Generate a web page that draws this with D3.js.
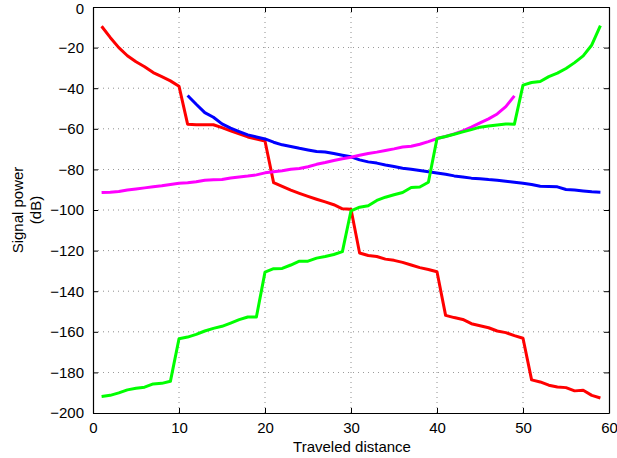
<!DOCTYPE html>
<html>
<head>
<meta charset="utf-8">
<script src="https://cdn.jsdelivr.net/npm/d3@7"></script>
<style>
  body { margin: 0; background: #fff; }
  svg { display: block; }
  text { font-family: "Liberation Sans", Arial, Helvetica, sans-serif; fill: #000; }
</style>
</head>
<body>
<svg id="chart" width="617" height="458"></svg>
<script>
// ---- data ----
const xTicks = [0, 10, 20, 30, 40, 50, 60];
const yTicks = [0, -20, -40, -60, -80, -100, -120, -140, -160, -180, -200];
const xLabel = "Traveled distance";
const yLabelLines = ["Signal power", "(dB)"];

const redX = d3.range(1, 60);
const redY = [-9.5, -15, -20, -24, -27, -29.4, -32.3, -34.3, -36.4, -39,
  -57.7, -58, -58, -58, -59.4, -61, -62.5, -64, -65, -66,
  -86.5, -88.4, -90.2, -91.8, -93.3, -94.7, -96, -97.4, -99.4, -99.6,
  -121.2, -122.4, -122.9, -124.2, -124.8, -125.8, -127.1, -128.4, -129.3, -130.4,
  -151.9, -153, -153.9, -156, -157, -158, -159.6, -160.4, -161.9, -163.2,
  -183.7, -184.7, -186.3, -187.2, -187.5, -189.1, -188.8, -191.3, -192.6];

const greenX = d3.range(1, 60);
const greenY = [-191.9, -191.3, -190.1, -188.6, -187.8, -187.3, -185.7, -185.4, -184.4,
  -163.4, -162.6, -161.3, -159.6, -158.3, -157.3, -155.7, -154, -152.7, -152.7,
  -130.6, -128.9, -128.8, -127.1, -125.2, -125.2, -123.7, -122.9, -121.9, -120.5,
  -100.4, -98.6, -97.9, -95.3, -93.7, -92.5, -91.4, -88.9, -88.7, -86.3,
  -64.8, -63.8, -62.7, -61.5, -60.4, -59.2, -58.6, -58.1, -57.6, -57.7,
  -38.5, -37.2, -36.7, -34.3, -32.6, -30.3, -27.4, -24.1, -18.7, -9.2];

const blueX = d3.range(11, 60);
const blueY = [-43.6, -47.9, -52, -54.3, -57.6, -59.7, -61.4, -63, -64, -65,
  -66.6, -67.9, -68.7, -69.6, -70.4, -71.2, -71.4, -72.2, -73, -73.8,
  -75.3, -76.3, -76.9, -77.8, -78.6, -79.4, -79.9, -80.5, -81.2, -81.8,
  -82.4, -83.2, -83.7, -84.3, -84.6, -85, -85.3, -85.8, -86.3, -86.8,
  -87.4, -88.3, -88.4, -88.6, -89.9, -90.2, -90.6, -91, -91.2];

const magentaX = d3.range(1, 50);
const magentaY = [-91.4, -91.2, -90.9, -90.1, -89.6, -89.1, -88.6, -88.1, -87.4, -86.8,
  -86.6, -86.1, -85.3, -85.1, -85, -84.2, -83.7, -83.3, -82.7, -81.7,
  -81.2, -80.7, -79.9, -79.6, -78.7, -77.5, -76.6, -75.6, -74.8, -74,
  -73, -72.2, -71.5, -70.7, -69.9, -69, -68.6, -67.6, -66.3, -64.8,
  -63.8, -62.5, -61, -59.2, -57.1, -55.1, -52.7, -49.1, -43.8];

const series = [
  { name: "red", color: "#ff0000", xs: redX, ys: redY },
  { name: "blue", color: "#0000ff", xs: blueX, ys: blueY },
  { name: "magenta", color: "#ff00ff", xs: magentaX, ys: magentaY },
  { name: "green", color: "#00ff00", xs: greenX, ys: greenY }
];

// ---- layout ----
(function () {
const svg = d3.select("#chart");
const mL = 93, mR = 609, mT = 7, mB = 413;
const x = d3.scaleLinear().domain([0, 60]).range([mL, mR]);
const y = d3.scaleLinear().domain([-200, 0]).range([mB, mT]);

// grid
const grid = svg.append("g");
grid.selectAll("line.gx").data(xTicks.slice(1, -1)).enter().append("line")
  .attr("x1", d => x(d)).attr("x2", d => x(d))
  .attr("y1", mT).attr("y2", mB)
  .attr("stroke", "#000").attr("stroke-width", 0.8)
  .attr("stroke-dasharray", "1,4").attr("opacity", 0.55);
grid.selectAll("line.gy").data(yTicks.slice(1, -1)).enter().append("line")
  .attr("y1", d => y(d)).attr("y2", d => y(d))
  .attr("x1", mL).attr("x2", mR)
  .attr("stroke", "#000").attr("stroke-width", 0.8)
  .attr("stroke-dasharray", "1,4").attr("opacity", 0.55);

// lines
const line = d3.line().x(d => x(d[0])).y(d => y(d[1]));
series.forEach(s => {
  const pts = s.xs.map((xv, i) => [xv, s.ys[i]]);
  svg.append("path").datum(pts)
    .attr("d", line)
    .attr("fill", "none")
    .attr("stroke", s.color)
    .attr("stroke-width", 3)
    .attr("stroke-linejoin", "round");
});

// axes (ticks inside, on all four sides)
const fmt = d => d < 0 ? "\u2212" + Math.abs(d) : String(d);
const axB = svg.append("g").attr("transform", `translate(0,${mB})`)
  .call(d3.axisBottom(x).tickValues(xTicks).tickSizeInner(-5).tickSizeOuter(0).tickPadding(9).tickFormat(fmt));
const axL = svg.append("g").attr("transform", `translate(${mL},0)`)
  .call(d3.axisLeft(y).tickValues(yTicks).tickSizeInner(-5).tickSizeOuter(0).tickPadding(9).tickFormat(fmt));
const axT = svg.append("g").attr("transform", `translate(0,${mT})`)
  .call(d3.axisTop(x).tickValues(xTicks).tickSizeInner(-5).tickSizeOuter(0).tickFormat(""));
const axR = svg.append("g").attr("transform", `translate(${mR},0)`)
  .call(d3.axisRight(y).tickValues(yTicks).tickSizeInner(-5).tickSizeOuter(0).tickFormat(""));
[axB, axL, axT, axR].forEach(a => {
  a.select(".domain").attr("stroke", "#000").attr("stroke-width", 1.2);
  a.selectAll(".tick line").attr("stroke", "#000");
  a.selectAll("text").attr("font-size", 15).attr("font-family", "Liberation Sans, Arial, sans-serif").attr("fill", "#000");
});
// keep the top "0" label fully inside the page
axL.selectAll(".tick text").filter(d => d === 0).attr("dy", "0.45em");

// labels
svg.append("text").attr("x", (mL + mR) / 2 + 1).attr("y", 452)
  .attr("text-anchor", "middle").attr("font-size", 15).text(xLabel);
const yl = svg.append("text").attr("transform", `translate(23,210) rotate(-90)`)
  .attr("text-anchor", "middle").attr("font-size", 15);
yl.selectAll("tspan").data(yLabelLines).enter().append("tspan")
  .attr("x", 0).attr("dy", (d, i) => i === 0 ? 0 : 18).text(d => d);
})();
</script>
</body>
</html>
